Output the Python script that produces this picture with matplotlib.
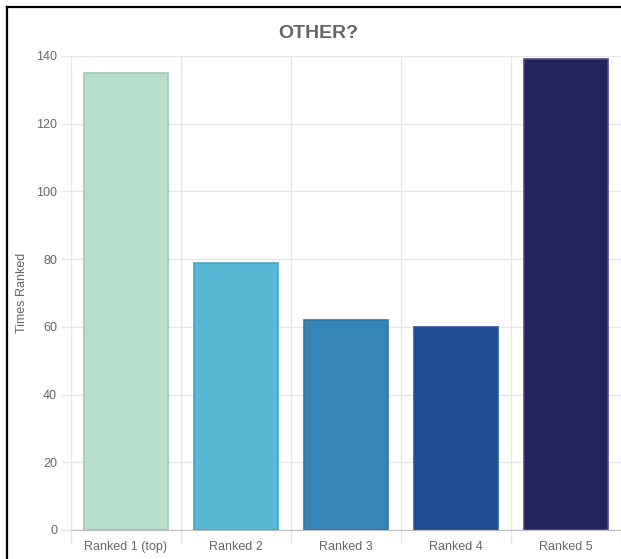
import matplotlib.pyplot as plt
from matplotlib.lines import Line2D

plt.rcParams['font.family'] = ['Liberation Sans', 'DejaVu Sans']

categories = ["Ranked 1 (top)", "Ranked 2", "Ranked 3", "Ranked 4", "Ranked 5"]
values = [135, 79, 62, 60, 139]
colors = ["#b8dfcc", "#56b8d3", "#3785b5", "#1f4b92", "#24235c"]
edges = ["#9ccab4", "#45a6c2", "#2f77a6", "#2a57a0", "#4a4a80"]

fig = plt.figure(figsize=(6.21, 5.59), dpi=100)
ax = fig.add_axes([71 / 621, 29 / 559, 550 / 621, 474 / 559])

x = list(range(len(categories)))
ax.bar(x, values, width=0.76, color=colors, edgecolor=edges, linewidth=1.2, zorder=3)

ax.set_xlim(-0.5, len(categories) - 0.5)
ax.set_ylim(0, 140)
ax.set_yticks(range(0, 141, 20))
ax.set_xticks(x)
ax.set_xticklabels(categories)
ax.set_xticks([i - 0.5 for i in range(len(categories) + 1)], minor=True)

ax.tick_params(axis='x', which='major', length=0, pad=8, labelsize=9, labelcolor='#666666')
ax.tick_params(axis='x', which='minor', length=10, color='#e6e6e6', width=1)
ax.tick_params(axis='y', length=7, color='#e6e6e6', width=1, pad=3, labelsize=9, labelcolor='#666666')

ax.grid(True, axis='y', color='#e6e6e6', linewidth=1, zorder=0)
ax.grid(True, axis='x', which='minor', color='#e6e6e6', linewidth=1, zorder=0)

for s in ['top', 'right', 'left']:
    ax.spines[s].set_visible(False)
ax.spines['bottom'].set_color('#bbbbbb')
ax.spines['bottom'].set_zorder(4)

ax.set_ylabel("Times Ranked", fontsize=9, color='#666666')
ax.yaxis.set_label_coords(-43 / 550, 0.5)
fig.text(318 / 621, 1 - 33 / 559, "OTHER?", ha='center', va='center',
         fontsize=14, fontweight='bold', color='#666666')

# page border (left and top)
fig.add_artist(Line2D([7 / 621, 7 / 621], [0, 1 - 7 / 559], color='black', linewidth=1.6, transform=fig.transFigure))
fig.add_artist(Line2D([7 / 621, 1], [1 - 7 / 559, 1 - 7 / 559], color='black', linewidth=1.6, transform=fig.transFigure))

plt.savefig("out.png", dpi=100)
